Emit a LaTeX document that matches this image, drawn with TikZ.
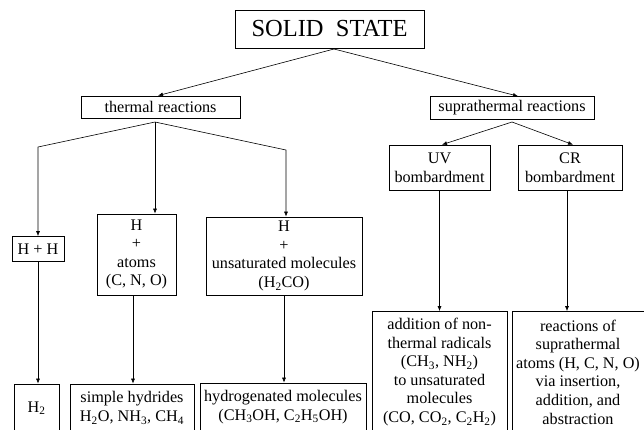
\documentclass[tikz,border=0pt]{standalone}
\usepackage{fontspec}
\setmainfont{Liberation Serif}
\usetikzlibrary{arrows.meta}
\newcommand{\sbs}[1]{\textsubscript{#1}}
\begin{document}
\begin{tikzpicture}[x=1pt,y=-1pt,
  box/.style={draw, line width=0.7pt, align=center, inner sep=0pt,
    font=\fontsize{16.2}{18.6}\selectfont},
  conn/.style={line width=0.6pt},
  arr/.style={conn, -{Latex[length=5pt,width=4pt]}}]
\useasboundingbox (0,0) rectangle (644,429);
\clip (0,0) rectangle (644,429);
% top level
\node[box, minimum width=189pt, minimum height=38pt,
  font=\fontsize{24.5}{28}\selectfont] (solid) at (329.5,29) {SOLID\ \ STATE};
\node[box, minimum width=159pt, minimum height=22pt] (thermal) at (160.5,107) {thermal reactions};
\node[box, minimum width=164pt, minimum height=23pt] (supra) at (512,108) {suprathermal reactions};
% thermal branch
\node[box, minimum width=52pt, minimum height=25pt] (hh) at (38,249) {H + H};
\node[box, minimum width=79pt, minimum height=81pt] (hat) at (136.5,254.5) {H\\+\\atoms\\(C, N, O)};
\node[box, minimum width=156pt, minimum height=78pt] (hun) at (284,256) {H\\+\\unsaturated molecules\\(H\sbs{2}CO)};
% suprathermal branch
\node[box, minimum width=101pt, minimum height=45pt] (uv) at (439.5,167.5) {UV\\bombardment};
\node[box, minimum width=104pt, minimum height=45pt] (cr) at (570,167.5) {CR\\bombardment};
% bottom row (cut at the lower edge)
\node[box, minimum width=45pt, minimum height=48pt] (h2) at (36.5,408) {H\sbs{2}};
\node[box, minimum width=124pt, minimum height=48pt] (hyd) at (132,408) {simple hydrides\\H\sbs{2}O, NH\sbs{3}, CH\sbs{4}};
\node[box, minimum width=166pt, minimum height=48pt] (hgn) at (283,407) {hydrogenated molecules\\(CH\sbs{3}OH, C\sbs{2}H\sbs{5}OH)};
\node[box, minimum width=135pt, minimum height=121pt] (add) at (439.5,372) {addition of non-\\thermal radicals\\(CH\sbs{3}, NH\sbs{2})\\to unsaturated\\molecules\\(CO, CO\sbs{2}, C\sbs{2}H\sbs{2})};
\node[box, minimum width=132pt, minimum height=121pt] (rea) at (578,372) {reactions of\\suprathermal\\atoms (H, C, N, O)\\via insertion,\\addition, and\\abstraction};
% connectors
\coordinate (sa) at (334,49);
\coordinate (ta) at (155,122);
\coordinate (pa) at (512,122);
\coordinate (c1) at (38,147);
\coordinate (c2) at (286,150);
\draw[conn] (solid.south -| sa) -- (sa);
\draw[arr] (sa) -- (thermal.north -| 158,0);
\draw[arr] (sa) -- (supra.north -| 518,0);
\draw[arr] (ta) -- (c1) -- (hh.north -| c1);
\draw[arr] (ta) -- (hat.north -| ta);
\draw[arr] (ta) -- (c2) -- (hun.north -| c2);
\draw[arr] (pa) -- (uv.north -| 442,0);
\draw[arr] (pa) -- (cr.north -| 573,0);
\draw[arr] (hh.south) -- (h2.north -| hh.south);
\draw[arr] (hat.south -| 133,0) -- (hyd.north -| 133,0);
\draw[arr] (hun.south) -- (hgn.north -| hun.south);
\draw[arr] (uv.south) -- (add.north -| uv.south);
\draw[arr] (cr.south -| 567,0) -- (rea.north -| 567,0);
\end{tikzpicture}
\end{document}
